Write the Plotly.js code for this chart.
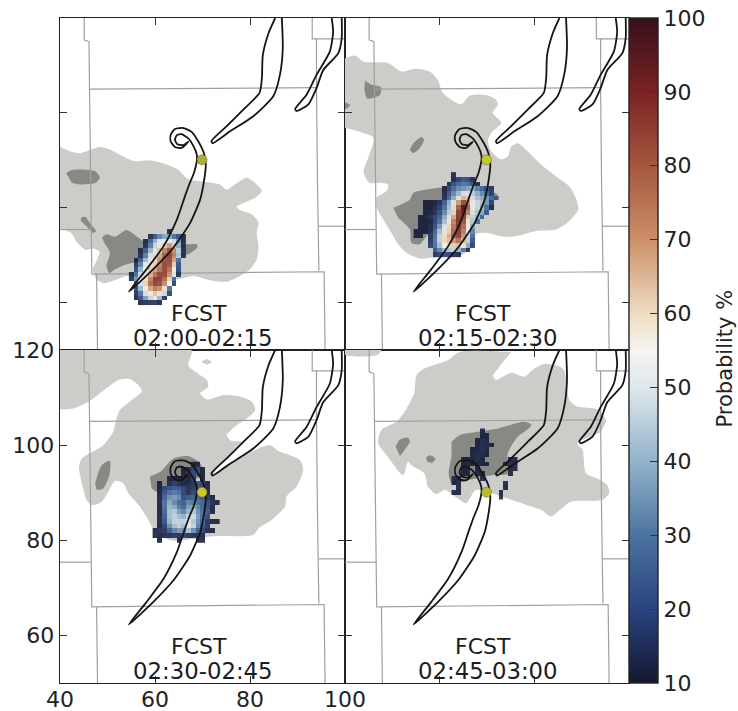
<!DOCTYPE html>
<html><head><meta charset="utf-8">
<script src="https://cdn.plot.ly/plotly-3.0.1.min.js"></script>
<style>html,body{margin:0;padding:0;background:#fff}</style>
</head><body><div id="chart" style="width:738px;height:711px"></div>
<script>
const n = null;
const timeLabels = ['02:00-02:15','02:15-02:30','02:30-02:45','02:45-03:00'];
const colorStops = [[0,'#14172e'],[0.11,'#2a4480'],[0.22,'#4a729f'],[0.33,'#8fb1c9'],[0.44,'#dce6ec'],[0.5,'#f6f4f0'],[0.555,'#efdcc2'],[0.667,'#cc8f68'],[0.778,'#a4573f'],[0.889,'#7a2323'],[1,'#36101a']];
const xTicks = [40,60,80,100];
const yTicks = [60,80,100,120];
const cbTicks = [10,20,30,40,50,60,70,80,90,100];

// map lines
const stateLines = [
 [[45.1,120],[45.1,115.4],[46.1,115],[46.2,105],[46.5,86],[46.7,66],[95.6,66.5],[95.8,50]],
 [[40,75.4],[46.5,75.4]],
 [[46.2,105],[94,105.3]],
 [[47.7,66],[47.9,50]],
 [[93.1,120],[93.1,115.6],[100,115.6]],
 [[94,115.6],[94,105.3],[94.2,86],[94.5,66.7]],
 [[94.5,76.1],[100,76.1]]
];
// storm swaths
const swathMain = [[54.5,62.3],[58.2,67],[61.8,71.9],[64.6,77.5],[66.3,82.4],[67.2,84.9],[68.2,87.3],[68.8,89.8],[68.8,91.2],[68.1,93],[67,94.6],[65.6,95.5],[64.6,95.3],[64.2,94.3],[64.7,93.4],[66,93.2],[67,93.9],[65.6,92.6],[64.2,92.8],[63.3,94],[63.3,95.4],[64.2,96.6],[66,96.8],[67.7,96],[69.1,94],[70.3,91.5],[70.7,89.1],[70.2,84.9],[69.5,81.7],[67.4,76.8],[63.9,71.6],[59.6,67],[54.5,62.3]];
const swathNorth = [[85.3,120],[83.9,116.8],[82.7,112.2],[82.5,107.3],[82,104.2],[78.6,100.7],[75.1,97.2],[71.9,94.1],[72.1,93.6],[75.8,96.1],[80.7,99.3],[84.9,103.5],[86.3,108],[86.9,113.6],[86.7,120]];
const swathEast = [[97.2,120],[97.5,117.1],[96.8,112.9],[94,108],[91.9,103.8],[89.5,100.8],[89.8,100.4],[92.3,101.8],[94,105.2],[95.4,109],[98.6,112.6],[99.3,115.7],[99.3,120]];
const stormDot = [69.9,90.1];
const dotColors = ['#aeb02a','#c9c925','#c9c925','#bcbc28'];

// reflectivity areas
const light1 = [[[40,92.8],[42.1,91.9],[44.2,91.5],[48.4,92.8],[50.5,92.3],[53.3,90.8],[55.8,89.8],[58.9,90],[62.5,89.1],[64.9,88],[67,86],[69.5,85.6],[73.7,84.9],[75.1,83.8],[76.8,84.9],[79.3,86.3],[81.4,84.9],[82.5,83.5],[81.1,82.1],[77.2,80.2],[77.9,79.5],[80.4,78.6],[81.8,76.8],[81.4,74.7],[81.8,71.9],[81.4,69.1],[80,67],[77.9,65.6],[75.1,64.4],[71.6,64.7],[68.1,65.6],[64.6,64.9],[57.5,65.6],[54,65.6],[51.2,64.6],[49.1,64.1],[47.7,64.9],[46.9,67],[47.7,68.8],[48.3,70.7],[47,71.4],[45.3,71.1],[43.5,72.8],[42.3,74.7],[40,75.6]]];
const dark1 = [
 [[41.3,87.3],[42.8,88],[47.4,87.7],[48.4,86.3],[47.4,85.2],[44.2,84.9],[42.5,85.2]],
 [[44.4,77.9],[45.3,78.1],[46.3,76.8],[47.6,75.1],[47,74.7],[45.6,76.1],[44.4,77.2]],
 [[48.8,73.7],[49.8,74.4],[51.6,73.9],[54,75.3],[56.1,74],[58.2,72.6],[62.5,72.3],[67,72.3],[68.8,72.3],[68.9,71.6],[67,70.2],[64.6,69.8],[59.6,69.1],[54,68.1],[51.6,67],[50.4,66.2],[49.8,67.7],[50.5,70.5],[49.5,72.3]]
];
const light2 = [[[40,111.5],[42.1,112.1],[43.9,110.8],[49.1,110.5],[51.9,108.7],[54.7,109.3],[57.9,108.7],[59.6,106.9],[60.7,104.2],[63.2,102.3],[64.6,101.8],[66.3,103.6],[69.5,103.8],[71.9,102.8],[72.3,101.7],[71.2,100],[73,97.9],[70.9,95.8],[70.2,94.3],[70.9,91.9],[73,90.2],[74.4,90.8],[75.1,92.9],[76.5,93.6],[78.6,91.9],[81.4,89.1],[84.6,86.6],[87.4,84.5],[88.9,81.7],[89.3,79.6],[87.4,77.2],[84.6,75.4],[80.4,75.1],[76.1,74],[73.3,73.9],[69.8,74.7],[67.7,74.4],[67,71.9],[64.2,69.8],[58.6,69.5],[55.8,69.3],[53,70.5],[51.2,72.3],[49.8,74.7],[48.1,77.5],[46.7,80],[46.7,82.1],[48.8,83.5],[49.1,84.9],[47.4,85.2],[45.3,85.2],[44.6,85.9],[43.9,87.7],[44.9,90.5],[46,94.7],[42.8,96.1],[40,96.8]]];
const dark2 = [
 [[44.2,106.8],[45.6,105.9],[47.6,105.4],[47.4,103.8],[45.3,103],[44.6,103.1],[44.1,104.9]],
 [[40,102.3],[41.1,101.6],[40,100.7]],
 [[54.4,93.6],[56.1,94.9],[56.7,94.4],[55.8,92.6],[54.4,91.5],[53.7,92.2]],
 [[50.2,80],[53.7,81.7],[54.4,83.1],[60,84.2],[66.3,84.5],[72.3,82.6],[66.3,78.2],[57.9,74.7],[55.8,72.3],[54,72.6],[53.7,75.4],[51.2,77.9]]
];
const light3 = [
 [[40,107.5],[42.8,107.7],[46,109.1],[48.8,111.2],[52.3,113.7],[54.7,113.9],[56.8,112.3],[57.2,111.2],[55.1,109.5],[52.6,107.4],[51.9,105.6],[51.2,102.8],[49.1,100],[46.3,98.3],[44.6,97.2],[44,95.5],[44.6,92],[45.6,88.5],[46.7,87.4],[48.8,88.1],[50.2,90.2],[51.6,92.5],[53.3,92],[54.4,89.9],[56.8,87.1],[58.6,84.3],[59.6,82.5],[63.2,80],[71.6,80.8],[74.4,80.9],[80.7,81.1],[81.8,82.5],[84.6,84.3],[87.4,87.1],[87.7,89.2],[89.8,91.3],[91.2,94.8],[90.5,96.9],[88.4,97.9],[86.3,98.6],[84.2,100],[81.4,99.1],[77.2,96.9],[74.4,95.5],[72.1,93.5],[73.7,95.8],[77.2,99.7],[78.2,100.7],[76.1,100.9],[75.1,102.1],[77.2,104.2],[79.3,105.6],[81.1,107.4],[80.4,109.1],[77.9,110.2],[74.4,110.5],[70.9,109.6],[69.5,110.9],[71.2,112.3],[70.9,113.7],[69.1,115],[67,116.8],[67.7,120],[40,120]],
 [[69.8,117.5],[70.9,118.1],[71.9,117.4],[70.9,116.9]]
];
const dark3 = [
 [[47.4,92],[48.8,95.8],[50.5,96.7],[50.4,93.7],[49.1,90.9],[47.7,90.6]],
 [[58.9,93.4],[61.1,94.4],[63.9,97.2],[67,97.7],[69.5,96.2],[70.2,94],[61.1,89.9],[59.3,90.9]]
];
const light4 = [
 [[40,120],[40,119],[43.5,118.6],[47,119],[47.7,120]],
 [[75.1,119.6],[64.2,119.6],[61.8,117.9],[56.8,116.1],[55.1,114.7],[54.6,110.9],[52.6,107],[50.9,104.9],[47.7,103.2],[47,100.4],[48.8,97.9],[52.3,93.7],[53.3,96.5],[54,95.8],[56.8,94],[57.5,91.3],[59.3,89.7],[61.1,90.6],[63.2,89.2],[65.6,87.8],[67.7,90.6],[75.1,88.5],[77.9,87.6],[81.4,86.4],[83.5,85],[85.6,86.5],[87.7,88.1],[94.4,88.5],[95.8,89.9],[95.4,91.6],[93.3,93],[90.9,94.1],[90.2,99],[89.1,100.4],[94,102.8],[95.1,105.3],[93.3,107.5],[89.1,108.1],[87.4,109.5],[86.3,115.8],[84.6,116.8],[82.1,117.1],[79.6,115.8],[77.9,114.4],[75.1,115.2],[71.9,113.7],[71.2,114.7]]
];
const dark4 = [
 [[50.7,99.7],[51.6,101.2],[53.3,101.6],[53.7,100.7],[52.6,99],[51.6,97.7]],
 [[57.1,97.4],[57.9,97.9],[59.1,97.2],[58.4,96.3],[57.4,96.5]],
 [[62.5,100.7],[64.2,102.1],[68.1,102.8],[72.3,103.5],[77.9,104.9],[79.4,104.2],[77.9,102.8],[76.5,101.8],[74.4,98.3],[74.4,94],[71.6,93.7],[69.5,93.4],[64.9,92.3],[63.5,91.6],[62.5,92],[61.9,94],[62.5,97.6]]
];

// probability cells: [y, first x, values...]
const prob1 = [
[75,63,13],
[74,59,13,22,32,38,38,28,22,11],
[73,58,11,25,40,50,53,53,48,35,12],
[72,58,15,32,48,56,62,68,62,40,13],
[71,57,13,25,42,53,62,72,80,70,46,15],
[70,57,15,32,50,58,66,78,84,72,44,13],
[69,56,12,25,42,54,60,70,82,84,68,28],
[68,56,15,32,50,58,62,72,84,82,62,22],
[67,56,20,40,55,62,68,76,84,76,56,20],
[66,55,12,28,48,58,66,76,84,84,70,50,15],
[65,55,15,35,52,60,74,88,88,78,62,26],
[64,56,26,48,62,78,86,84,72,56,18],
[63,56,18,40,58,68,76,72,60,28],
[62,56,14,28,48,58,64,60,46,18],
[61,56,12,20,36,46,50,40,15],
[60,57,12,14,15,15,12]];
const prob2 = [
[87,63,13],
[86,63,12,18,22,20,13],
[85,62,13,20,26,30,28,22,12],
[84,61,12,20,28,34,36,38,40,32,26,20,15],
[83,61,14,24,34,42,50,52,46,40,34,28,18],
[82,61,15,28,40,52,64,62,50,44,40,36,28,22],
[81,57,11,11,12,15,26,40,52,68,82,70,54,48,44,36,18],
[80,57,11,11,13,18,30,44,58,78,97,78,56,48,42,28,12],
[79,57,11,12,15,22,34,46,60,84,90,72,50,44,38,22],
[78,56,11,12,15,20,26,40,52,66,86,86,62,46,40,25],
[77,56,11,11,12,20,30,44,56,72,88,82,58,44,28],
[76,56,11,11,13,22,36,50,60,76,88,78,56,38],
[75,55,11,11,11,14,26,42,58,62,78,88,74,52,32],
[74,55,11,11,n,15,28,46,60,66,80,86,70,48,28],
[73,58,15,30,46,60,64,70,76,66,46,22],
[72,58,18,28,42,56,60,62,64,58,38,18],
[71,59,22,32,40,44,46,40,30,14],
[70,59,15,18,20,18,15,13]];
const prob3 = [
[96,68,11,12],
[95,66,11,13,18,20,11],
[94,66,12,15,20,22,11],
[93,63,12,12,13,14,12,18,n,11],
[92,61,11,n,14,18,15,12,12,14,20,18,11],
[91,61,11,20,22,24,22,18,13,15,22,20,12],
[90,61,11,22,28,30,28,18,14,18,24,20,11],
[89,61,12,25,34,36,33,20,22,24,26,22,15,11],
[88,61,12,28,38,33,26,24,32,30,28,26,20,13,11],
[87,61,11,28,40,38,30,26,36,38,32,26,20,12],
[86,61,11,26,42,44,36,32,40,44,34,28,22,12],
[85,61,12,24,42,46,42,40,46,48,36,28,20],
[84,61,12,22,40,46,46,46,50,44,34,26,15,12,11],
[83,61,11,18,34,42,46,42,50,46,32,22,15],
[82,60,12,14,15,24,32,36,34,42,34,24,18,13,12],
[81,60,12,11,13,14,15,14,18,15,14,13,12],
[80,61,11,n,n,n,12,n,n,n,11,12]];
const prob4 = [
[103,69,12],
[102,69,11,12],
[101,68,11,13,12],
[100,68,11,13,13,11],
[99,67,11,12,14,12],
[98,67,12,13,13,11],
[97,65,11,11,12,13,12,n,n,n,n,n,11,11],
[96,65,11,12,11,12,12,11,n,n,n,12,12,11],
[95,65,11,11,n,12,n,n,n,n,n,n,11,12],
[94,65,12,11,n,12,11,n,n,n,n,n,12],
[93,63,13,12,n,n,n,n,12],
[92,63,12,13,n,n,n,n,n,n,n,n,n,13],
[91,64,12,n,n,n,n,n,n,n,n,n,11],
[90,63,12,12,n,n,n,n,n,n,n,n,12],
[89,73,13]];

const panels = [
 {light:light1,dark:dark1,prob:prob1},
 {light:light2,dark:dark2,prob:prob2},
 {light:light3,dark:dark3,prob:prob3},
 {light:light4,dark:dark4,prob:prob4}
];

function heat(rows){
  const sorted = rows.slice().sort((a,b)=>a[0]-b[0]);
  const ys = sorted.map(r=>r[0]);
  let mn=1e9,mx=-1e9;
  sorted.forEach(r=>{mn=Math.min(mn,r[1]);mx=Math.max(mx,r[1]+r.length-3);});
  const xs=[];for(let x=mn;x<=mx;x++)xs.push(x);
  const z=sorted.map(r=>xs.map(x=>{const i=x-r[1]+2;return (i>=2&&i<r.length)?r[i]:null;}));
  return {x:xs,y:ys,z};
}
const traces=[];
const annotations=[];
panels.forEach((p,i)=>{
  const s=i===0?'':String(i+1);
  const ax={xaxis:'x'+s,yaxis:'y'+s,hoverinfo:'skip',showlegend:false};
  const top={xaxis:'x'+(i+5),yaxis:'y'+(i+5),hoverinfo:'skip',showlegend:false};
  p.light.forEach(poly=>traces.push({...ax,type:'scatter',mode:'lines',x:poly.map(a=>a[0]),y:poly.map(a=>a[1]),fill:'toself',fillcolor:'#cccdc9',line:{width:0,shape:'spline',smoothing:0.7}}));
  p.dark.forEach(poly=>traces.push({...ax,type:'scatter',mode:'lines',x:poly.map(a=>a[0]),y:poly.map(a=>a[1]),fill:'toself',fillcolor:'#878985',line:{width:0,shape:'spline',smoothing:0.7}}));
  stateLines.forEach(l=>traces.push({...ax,type:'scatter',mode:'lines',x:l.map(a=>a[0]),y:l.map(a=>a[1]),line:{color:'#a0a0a0',width:1.2}}));
  const h=heat(p.prob);
  traces.push({...top,type:'heatmap',x:h.x,y:h.y,z:h.z,coloraxis:'coloraxis',hoverongaps:false,opacity:0.9});
  [swathMain,swathNorth,swathEast].forEach(l=>traces.push({...top,type:'scatter',mode:'lines',x:l.map(a=>a[0]),y:l.map(a=>a[1]),line:{color:'#151515',width:1.8,shape:'spline',smoothing:0.6}}));
  traces.push({...top,type:'scatter',mode:'markers',x:[stormDot[0]],y:[stormDot[1]],marker:{size:10,color:dotColors[i],line:{color:'#555',width:0.5}}});
  annotations.push({xref:'x'+s,yref:'y'+s,x:69.2,y:57.6,text:'FCST',showarrow:false,yanchor:'middle',xanchor:'center',font:{size:22,color:'#1c1c1c'}});
  annotations.push({xref:'x'+s,yref:'y'+s,x:70.2,y:52.5,text:timeLabels[i],showarrow:false,yanchor:'middle',xanchor:'center',font:{size:22.8,color:'#1c1c1c'}});
});
const W=738,H=711;
annotations.push({xref:'paper',yref:'paper',x:725/W,y:(H-358.5)/H,text:'Probability %',textangle:-90,showarrow:false,xanchor:'center',yanchor:'middle',font:{size:21,color:'#222'}});
const xDom=[[60/W,345/W],[345/W,629/W]];
const yDom=[[(H-350)/H,(H-18)/H],[(H-683)/H,(H-350)/H]];
function xa(i,labels,anchor){return {domain:xDom[i],range:[40,100],tickmode:'array',tickvals:xTicks,ticks:'inside',ticklen:7,tickwidth:1,tickcolor:'#333',mirror:'allticks',showline:true,linecolor:'#222',linewidth:1.4,showgrid:false,zeroline:false,showticklabels:labels,ticklabelstandoff:-4,anchor,tickfont:{size:22,color:'#222'}};}
function ya(i,labels,anchor){return {domain:yDom[i],range:[50,120],tickmode:'array',tickvals:yTicks,ticks:'inside',ticklen:7,tickwidth:1,tickcolor:'#333',mirror:'allticks',showline:true,linecolor:'#222',linewidth:1.4,showgrid:false,zeroline:false,showticklabels:labels,anchor,tickfont:{size:22,color:'#222'}};}
function xo(base,anchor){return {overlaying:base,range:[40,100],visible:false,anchor};}
function yo(base,anchor){return {overlaying:base,range:[50,120],visible:false,anchor};}
const layout={
 width:W,height:H,autosize:false,margin:{l:0,r:0,t:0,b:0},paper_bgcolor:'#fff',plot_bgcolor:'#fff',
 font:{family:'DejaVu Sans',color:'#222'},showlegend:false,annotations,
 xaxis:xa(0,false,'y'),yaxis:ya(0,false,'x'),
 xaxis2:xa(1,false,'y2'),yaxis2:ya(0,false,'x2'),
 xaxis3:xa(0,true,'y3'),yaxis3:ya(1,true,'x3'),
 xaxis4:xa(1,false,'y4'),yaxis4:ya(1,false,'x4'),
 xaxis5:xo('x','y5'),yaxis5:yo('y','x5'),
 xaxis6:xo('x2','y6'),yaxis6:yo('y2','x6'),
 xaxis7:xo('x3','y7'),yaxis7:yo('y3','x7'),
 xaxis8:xo('x4','y8'),yaxis8:yo('y4','x8'),
 coloraxis:{cmin:10,cmax:100,colorscale:colorStops,colorbar:{
   x:629/W,xanchor:'left',xpad:0,thickness:29,thicknessmode:'pixels',
   len:665/H,lenmode:'fraction',y:(H-350.5)/H,yanchor:'middle',ypad:0,
   outlinewidth:1.4,outlinecolor:'#222',ticks:'inside',ticklen:8,tickwidth:1,tickcolor:'#333',
   tickmode:'array',tickvals:cbTicks,ticktext:cbTicks.map(String),tickfont:{size:22,color:'#222'}
 }}
};
Plotly.newPlot('chart',traces,layout,{displayModeBar:false,staticPlot:true});
</script></body></html>
